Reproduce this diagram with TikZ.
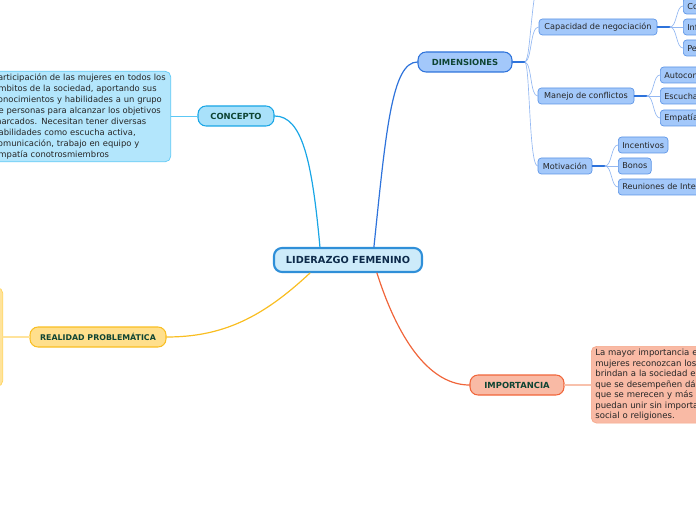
\documentclass[tikz,border=0pt]{standalone}
\usepackage{fontspec}
\setmainfont{DejaVu Sans}
\usepackage{tikz}
\usetikzlibrary{positioning}
\definecolor{mapnavy}{HTML}{0D2A4A}
\definecolor{mapgreen}{HTML}{0E4433}
\definecolor{leadfill}{HTML}{CDEBFA}
\definecolor{leaddraw}{HTML}{2F8FD8}
\definecolor{concfill}{HTML}{A9E1FA}
\definecolor{concdraw}{HTML}{19A6E6}
\definecolor{conctext}{HTML}{B3E6FC}
\definecolor{conctextdraw}{HTML}{5CC8F5}
\definecolor{dimfill}{HTML}{A3C8FA}
\definecolor{dimdraw}{HTML}{2E73DB}
\definecolor{dimsub}{HTML}{5B94E6}
\definecolor{dimline}{HTML}{94B8F2}
\definecolor{realfill}{HTML}{FFDF8C}
\definecolor{realdraw}{HTML}{F9BE22}
\definecolor{realbox}{HTML}{FFE39B}
\definecolor{realboxdraw}{HTML}{FFD35A}
\definecolor{impfill}{HTML}{F9BAA5}
\definecolor{impdraw}{HTML}{F0653A}
\definecolor{impboxdraw}{HTML}{F5A688}

\begin{document}
\begin{tikzpicture}[x=0.75pt, y=-0.75pt, line cap=round, line join=round,
  central/.style={draw=leaddraw, fill=leadfill, line width=1.6pt, rounded corners=6pt,
    minimum width=111pt, minimum height=18pt, inner sep=0pt, text=mapnavy,
    font=\fontsize{7.3}{8}\selectfont\bfseries},
  topic/.style={rounded corners=6pt, line width=0.8pt, minimum height=15pt,
    inner sep=0pt, text=mapgreen, font=\fontsize{6.3}{7}\selectfont\bfseries},
  sub/.style={draw=dimsub, fill=dimfill, rounded corners=2.5pt, line width=0.5pt,
    minimum height=12pt, inner xsep=3pt, inner ysep=0pt, text=black!85,
    font=\fontsize{6.1}{7}\selectfont},
  leaf/.style={sub, anchor=west},
  edgeleaf/.style={sub, anchor=west, text width=60pt, align=left},
  textbox/.style={rounded corners=4pt, line width=0.5pt, inner xsep=3pt, inner ysep=1.5pt,
    align=left, anchor=north west, text=black!85},
  branch/.style={line width=0.5pt, dimline},
  stem/.style={line width=0.9pt, dimdraw}]
  \useasboundingbox (0,0) rectangle (696,520);
  \clip (0,0) rectangle (696,520);

  % central idea
  \node[central] (lider) at (348,260) {LIDERAZGO FEMENINO};

  % main topics
  \node[topic, draw=concdraw, fill=concfill, minimum width=57pt] (concepto) at (236,116) {CONCEPTO};
  \node[topic, draw=dimdraw, fill=dimfill, minimum width=70.5pt] (dimens) at (465,62) {DIMENSIONES};
  \node[topic, draw=realdraw, fill=realfill, minimum width=102pt,
    font=\fontsize{5.9}{7}\selectfont\bfseries] (realidad) at (98,337) {REALIDAD PROBLEMÁTICA};
  \node[topic, draw=impdraw, fill=impfill, minimum width=70.5pt] (import) at (517,385) {IMPORTANCIA};

  \draw[concdraw, line width=0.9pt] (lider.north west) ++(47,0) coordinate (lc)
    (lc) .. controls (312,160) and (302,116) .. (concepto.east);
  \draw[dimdraw, line width=0.9pt] (lider.north west) ++(101,0) coordinate (ld)
    (ld) .. controls (386,130) and (392,62) .. (dimens.west);
  \draw[realdraw, line width=0.9pt] (lider.south west) ++(37,0) coordinate (lr)
    (lr) .. controls (262,318) and (222,337) .. (realidad.east);
  \draw[impdraw, line width=0.9pt] (lider.south west) ++(104,0) coordinate (li)
    (li) .. controls (400,345) and (432,385) .. (import.west);

  % concepto text
  \node[textbox, draw=conctextdraw, fill=conctext, text width=130pt,
    font=\fontsize{6.3}{8.35}\selectfont] (conctxt) at (-11,71)
    {Participación de las mujeres en todos los\\
     ámbitos de la sociedad, aportando sus\\
     conocimientos y habilidades a un grupo\\
     de personas para alcanzar los objetivos\\
     marcados. Necesitan tener diversas\\
     habilidades como escucha activa,\\
     comunicación, trabajo en equipo y\\
     empatía conotrosmiembros};
  \draw[conctextdraw, line width=0.7pt] (conctxt.east |- concepto) -- (concepto.west);

  % realidad box
  \node[draw=realboxdraw, fill=realbox, rounded corners=4pt, line width=0.5pt,
    anchor=east, minimum width=90pt, minimum height=74pt] (realtxt) at (3,337) {};
  \draw[realbox, line width=0.9pt] (realtxt.east) -- (realidad.west);

  % importancia text
  \node[textbox, draw=impboxdraw, fill=impfill, text width=150pt, inner ysep=2pt,
    font=\fontsize{6.4}{7.9}\selectfont] (imptxt) at (591,346)
    {La mayor importancia es que las\\
     mujeres reconozcan los aportes que\\
     brindan a la sociedad en todos los\\
     que se desempeñen dándoles el valor\\
     que se merecen y más poder para que\\
     puedan unir sin importar la clase\\
     social o religiones.};
  \draw[impboxdraw!70, line width=0.9pt] (import.east) -- (imptxt.west |- import);

  % dimensiones
  \node[sub, minimum width=88.5pt] (negoc) at (598,27) {Capacidad de negociación};
  \node[sub, minimum width=72pt] (conflic) at (586,96) {Manejo de conflictos};
  \node[sub, minimum width=40.5pt] (motiv) at (565,166) {Motivación};
  \coordinate (dimoff) at (548,-40);
  \coordinate (dfork) at (525,62);
  \draw[stem] (dimens.east) -- (dfork);
  \draw[branch] (dfork) .. controls (532,58) and (530,-30) .. (dimoff);
  \draw[branch] (dfork) .. controls (532,60) and (530,27) .. (negoc.west);
  \draw[branch] (dfork) .. controls (532,64) and (530,96) .. (conflic.west);
  \draw[branch] (dfork) .. controls (530,66) and (529,166) .. (motiv.west);

  % capacidad de negociacion
  \node[edgeleaf] (comun) at (683,6) {Comunicación};
  \node[edgeleaf] (influ) at (683,27) {Influencia};
  \node[edgeleaf] (persu) at (683,48) {Persuasión};
  \coordinate (nfork) at (670,27);
  \draw[stem] (negoc.east) -- (nfork);
  \foreach \leafnode in {comun,influ,persu}
    \draw[branch] (nfork) .. controls (677,27) and (676,0 |- \leafnode.west) .. (\leafnode.west);

  % manejo de conflictos
  \node[edgeleaf] (autoc) at (660,75) {Autocontrol};
  \node[edgeleaf] (escuc) at (660,96) {Escucha activa};
  \node[edgeleaf] (empat) at (660,118) {Empatía};
  \coordinate (mfork) at (647,96);
  \draw[stem] (conflic.east) -- (mfork);
  \foreach \leafnode in {autoc,escuc,empat}
    \draw[branch] (mfork) .. controls (654,96) and (653,0 |- \leafnode.west) .. (\leafnode.west);

  % motivacion
  \node[leaf] (incent) at (618,145) {Incentivos};
  \node[leaf] (bonos) at (618,166) {Bonos};
  \node[edgeleaf, text width=95pt] (reunio) at (618,187) {Reuniones de Integración};
  \coordinate (tfork) at (605,166);
  \draw[stem] (motiv.east) -- (tfork);
  \foreach \leafnode in {incent,bonos,reunio}
    \draw[branch] (tfork) .. controls (612,166) and (611,0 |- \leafnode.west) .. (\leafnode.west);
\end{tikzpicture}
\end{document}
